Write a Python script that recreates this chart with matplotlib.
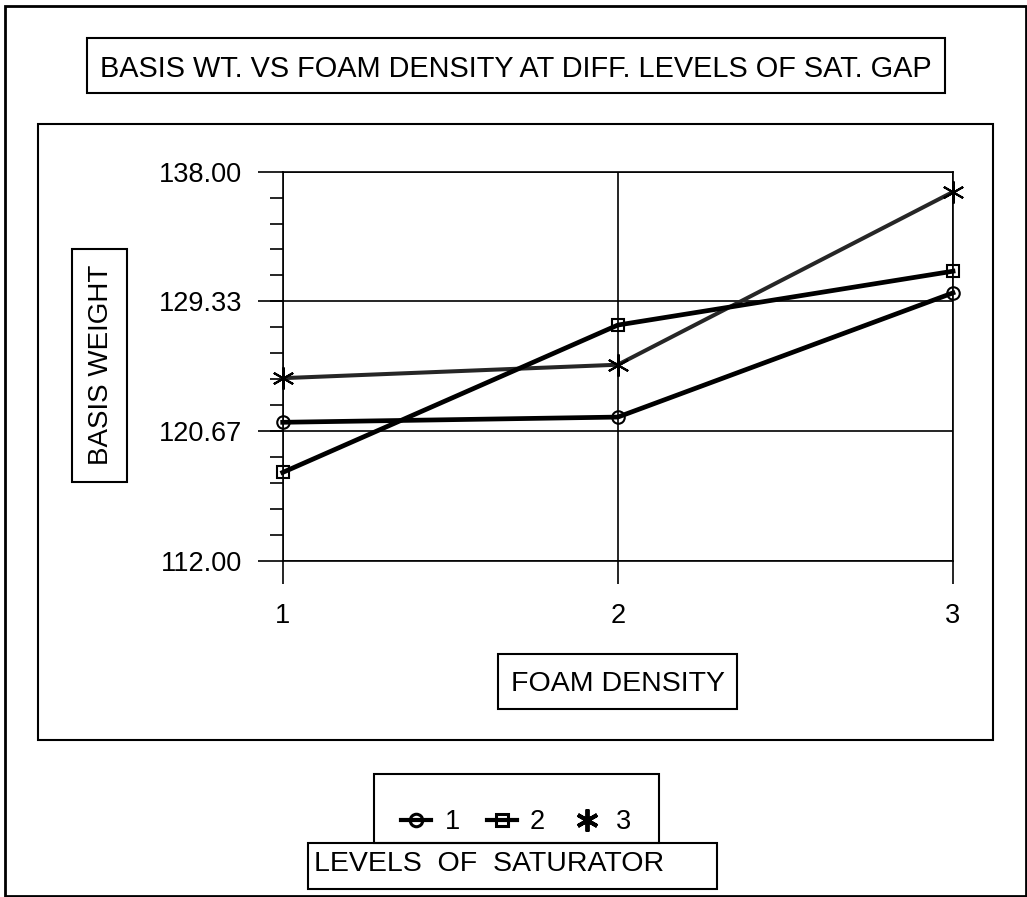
import numpy as np
import matplotlib.pyplot as plt
from matplotlib.patches import Rectangle
from matplotlib.lines import Line2D

plt.rcParams['font.family'] = ['Liberation Sans', 'DejaVu Sans']

foam_density = [1, 2, 3]
level_1 = [121.25, 121.6, 129.9]
level_2 = [117.9, 127.75, 131.35]
level_3 = [124.2, 125.1, 136.65]
y_ticks = [112.00, 120.67, 129.33, 138.00]
y_ticklabels = ['112.00', '120.67', '129.33', '138.00']
legend_labels = ['1', '2', '3']

W, H = 1027, 897
fig = plt.figure(figsize=(W / 100, H / 100), dpi=100)


def box(x0, y0, x1, y1, lw=1.5):
    # pixel coords, origin top-left
    r = Rectangle((x0 / W, 1 - y1 / H), (x1 - x0) / W, (y1 - y0) / H,
                  transform=fig.transFigure, fill=False, edgecolor='black', lw=lw)
    fig.patches.append(r)


def ftext(x, y, s, **kw):
    fig.text(x / W, 1 - y / H, s, **kw)


# frames
box(5, 6, 1026, 896, lw=2)
box(87, 38, 945, 93)
box(38, 124, 993, 740)
box(72, 249, 127, 482)
box(498, 654, 737, 709)
box(374, 774, 659, 843)
box(308, 843, 717, 889)

ftext(516, 69, 'BASIS WT. VS FOAM DENSITY AT DIFF. LEVELS OF SAT. GAP',
      ha='center', va='center', fontsize=20.8)
ftext(101, 365, 'BASIS WEIGHT', rotation=90, ha='center', va='center', fontsize=20)
ftext(618, 684, 'FOAM DENSITY', ha='center', va='center', fontsize=20.5)
ftext(314, 864, 'LEVELS  OF  SATURATOR', ha='left', va='center', fontsize=20.5)

ax = fig.add_axes([282.7 / W, 1 - 560.7 / H, (953 - 282.7) / W, (560.7 - 171.7) / H])
ax.set_xlim(1, 3)
ax.set_ylim(112, 138)

ax.plot(foam_density, level_1, color='black', lw=3.4, marker='o', ms=9,
        mfc='none', mec='black', mew=1.5, label=legend_labels[0], clip_on=False, zorder=4)
ax.plot(foam_density, level_2, color='black', lw=3.4, marker='s', ms=9,
        mfc='none', mec='black', mew=1.5, label=legend_labels[1], clip_on=False, zorder=4)
ax.plot(foam_density, level_3, color='#262626', lw=2.9, marker=(6, 2, 0), ms=16,
        mec='black', mew=1.5, label=legend_labels[2], clip_on=False, zorder=3)

ax.set_xticks(foam_density)
ax.set_xticklabels(['1', '2', '3'])
ax.set_yticks(y_ticks)
ax.set_yticklabels(y_ticklabels)
ax.set_yticks(np.linspace(112, 138, 16), minor=True)
ax.tick_params(axis='y', which='major', direction='out', length=18, width=1.2,
               labelsize=19.5, pad=11)
ax.tick_params(axis='y', which='minor', direction='out', length=9.5, width=1.2)
ax.tick_params(axis='x', which='major', direction='out', length=16.5, width=1.2,
               labelsize=19.5, pad=14)
ax.grid(True, which='major', color='black', lw=1.2)
for s in ax.spines.values():
    s.set_linewidth(1.2)

handles = [Line2D([], [], color='black', lw=3, marker='o', ms=9, mfc='none', mew=2.2),
           Line2D([], [], color='black', lw=3, marker='s', ms=9, mfc='none', mew=2.2),
           Line2D([], [], color='black', lw=3, marker=(6, 2, 0), ms=16, mew=2.8, ls='none')]
fig.legend(handles, legend_labels, loc='center', bbox_to_anchor=(516 / W, 1 - 822 / H),
           ncol=3, frameon=False, fontsize=19.5, handlelength=1.1, handletextpad=0.5,
           columnspacing=1.0)

fig.savefig('out.png', dpi=100)
